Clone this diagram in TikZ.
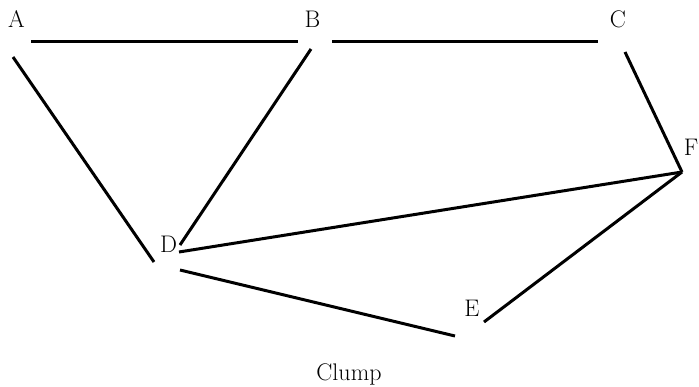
\documentclass[tikz,border=0pt]{standalone}
\usetikzlibrary{positioning}

\begin{document}
\begin{tikzpicture}[
    x=1pt, y=-1pt,
    font=\fontsize{24}{28}\selectfont,
    vlabel/.style={inner sep=0pt},
    edge/.style={line width=3pt}
]
\useasboundingbox (0,0) rectangle (699,386);

% vertex labels
\node[vlabel] (A) at (16.5,19.5) {A};
\node[vlabel] (B) at (312.5,19.5) {B};
\node[vlabel] (C) at (618,19.5) {C};
\node[vlabel] (F) at (691,147.5) {F};
\node[vlabel] (D) at (168.5,244) {D};
\node[vlabel] (E) at (472,308.5) {E};
\node[vlabel, anchor=base] (clump) at (349,380) {Clump};

% edge ends
\coordinate (abA) at (31,41);
\coordinate (abB) at (298,41);
\coordinate (bcB) at (332,41);
\coordinate (bcC) at (598,41);
\coordinate (adA) at (13,57);
\coordinate (adD) at (154,262);
\coordinate (bdB) at (311,49);
\coordinate (bdD) at (180,245);
\coordinate (cfC) at (625,52);
\coordinate (Fpt) at (682,172);
\coordinate (dfD) at (179,252);
\coordinate (feE) at (484,322);
\coordinate (deD) at (180,270);
\coordinate (deE) at (455,336);

% edges
\draw[edge] (abA) -- (abB);
\draw[edge] (bcB) -- (bcC);
\draw[edge] (adA) -- (adD);
\draw[edge] (bdB) -- (bdD);
\draw[edge] (cfC) -- (Fpt);
\draw[edge] (dfD) -- (Fpt);
\draw[edge] (Fpt) -- (feE);
\draw[edge] (deD) -- (deE);

\end{tikzpicture}
\end{document}
